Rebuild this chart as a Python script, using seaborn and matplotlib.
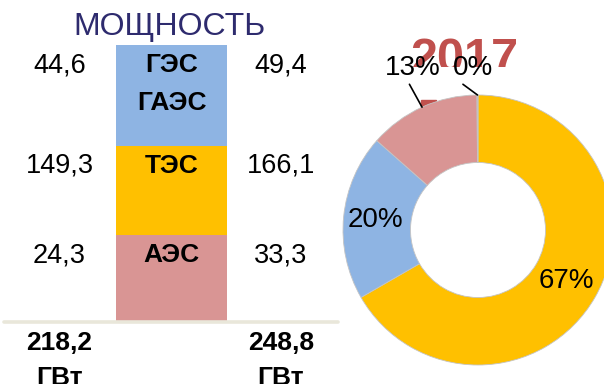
import matplotlib
matplotlib.use("Agg")
import matplotlib.pyplot as plt
import seaborn as sns
import numpy as np
import pandas as pd
from matplotlib.patches import Rectangle
from matplotlib.transforms import Bbox, TransformedBbox

# ---- data -------------------------------------------------------------
categories = ["ГЭС\nГАЭС", "ТЭС", "АЭС"]
cap_before = [44.6, 149.3, 24.3]      # ГВт, left column
cap_2017 = [49.4, 166.1, 33.3]        # ГВт, right column
donut_labels = ["ТЭС", "ГЭС", "АЭС", "ВИЭ"]
donut_values = [166.1, 49.4, 33.3, 0.3]
title = "МОЩНОСТЬ"
year = "2017"
unit = "ГВт"

# ---- styles / layout ---------------------------------------------------
strip_colors = ["#8EB4E3", "#FFC000", "#D99594"]
donut_colors = ["#FFC000", "#8EB4E3", "#D99594", "#B7A6D0"]
row_px = [101, 89, 87]          # strip row heights, top to bottom (pixels)
W, H = 604, 384

sns.set_theme(style="white")
plt.rcParams["font.family"] = ["Liberation Sans", "DejaVu Sans"]

fig = plt.figure(figsize=(W / 100, H / 100), dpi=100)


def fx(px):
    return px / W


def fy(py):
    return 1 - py / H


def fmt(v):
    return f"{v:.1f}".replace(".", ",")


# ---- left: category strip with values on both sides -------------------
strip_top, strip_bottom = 45, 322
ax = fig.add_axes([0, fy(strip_bottom), fx(340), (strip_bottom - strip_top) / H])
tops = np.cumsum(row_px[::-1])[::-1]          # top edge of each row above strip bottom
for top, col in zip(tops, strip_colors):
    sns.barplot(x=["strip"], y=[top], color=col, saturation=1, width=0.8,
                linewidth=0, ax=ax)

unit_px = 111 / 0.8
centre_px = 171.5
ax.set_xlim(-centre_px / unit_px, (340 - centre_px) / unit_px)
ax.set_ylim(0, strip_bottom - strip_top)
ax.axis("off")
ax.axhline(0, xmin=4 / 340, xmax=338 / 340, color="#E9E7DA", lw=2.6,
           clip_on=False, zorder=5)

left_x = (59.5 - centre_px) / unit_px
right_x = (281 - centre_px) / unit_px
for cat, top, v0, v1 in zip(categories, tops, cap_before, cap_2017):
    base = top - 27
    for i, line in enumerate(cat.split("\n")):
        ax.text(0, base - 38 * i, line, ha="center", va="baseline",
                fontsize=19, fontweight="bold", color="black")
    ax.text(left_x, base, fmt(v0), ha="center", va="baseline", fontsize=19.5,
            color="black")
    ax.text(right_x, base, fmt(v1), ha="center", va="baseline", fontsize=19.5,
            color="black")

for x, total in ((left_x, sum(cap_before)), (right_x, sum(cap_2017))):
    ax.text(x, -28, fmt(total), ha="center", va="baseline", fontsize=19,
            fontweight="bold", color="black", clip_on=False)
    ax.text(x, -63, unit, ha="center", va="baseline", fontsize=19,
            fontweight="bold", color="black", clip_on=False)

fig.text(fx(170), fy(35), title, ha="center", va="baseline", fontsize=23,
         color="#2E2B6E")

# ---- right: donut of 2017 structure ------------------------------------
pax = fig.add_axes([fx(343), fy(365), fx(270), 270 / H])
total = sum(donut_values)


def pct_label(p):
    return f"{p:.0f}%" if p >= 15 else ""


wedges, texts, autotexts = pax.pie(
    donut_values, colors=donut_colors, startangle=90, counterclock=False,
    radius=1, autopct=pct_label, pctdistance=0.76,
    wedgeprops=dict(width=0.5, edgecolor="#C4C4C4", linewidth=0.6),
    textprops=dict(fontsize=20, color="black"))
pax.set_xlim(-1, 1)
pax.set_ylim(-1, 1)

pax.add_patch(Rectangle((-0.42, 0.85), 0.11, 0.115, color="#C0504D", zorder=0))

yr = pax.text(fx(464), fy(72), year, transform=fig.transFigure, ha="center",
              va="baseline", fontsize=35, fontweight="bold", color="#C0504D",
              family=["Liberation Sans Narrow", "Liberation Sans"], zorder=2.5)
yr.set_clip_box(TransformedBbox(Bbox([[0.5, fy(67)], [1, 1]]), fig.transFigure))
yr.set_clip_on(True)

outside_pos = {"АЭС": ((-0.48, 1.20), 0.4), "ВИЭ": ((-0.04, 1.20), 0.15)}
for w, name, v in zip(wedges, donut_labels, donut_values):
    if name not in outside_pos:
        continue
    pos, rel = outside_pos[name]
    mid = np.deg2rad((w.theta1 + w.theta2) / 2)
    pax.annotate(f"{v / total * 100:.0f}%", xy=(np.cos(mid), np.sin(mid)),
                 xytext=pos, ha="center", va="center", fontsize=20,
                 color="black", zorder=3, annotation_clip=False,
                 arrowprops=dict(arrowstyle="-", color="black", lw=1.2,
                                 relpos=(rel, 0), shrinkA=0, shrinkB=0))

fig.savefig("out.png", dpi=100)
